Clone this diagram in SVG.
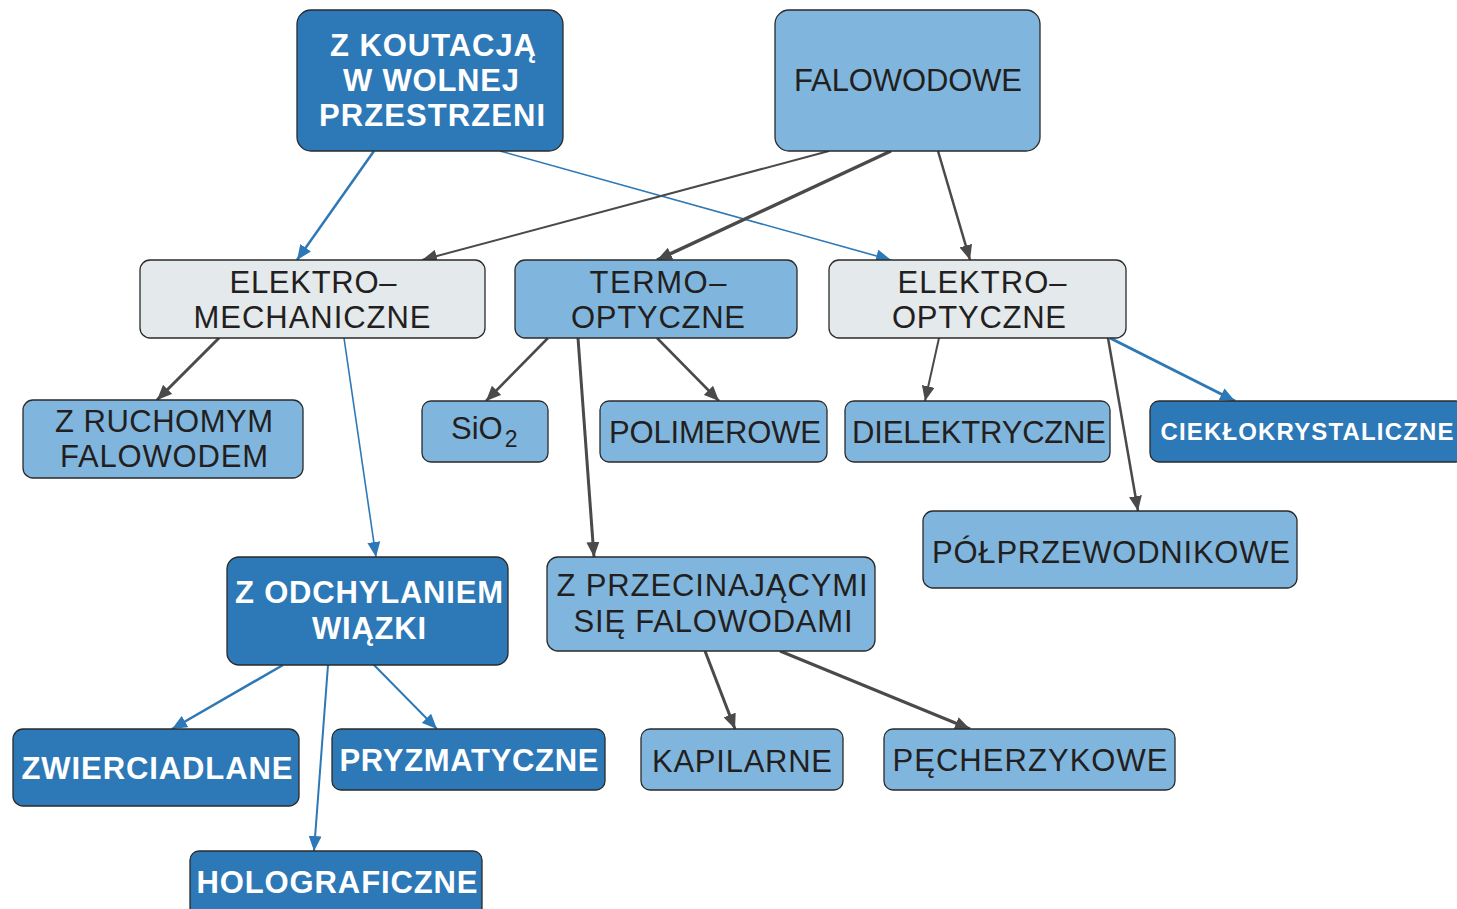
<svg xmlns="http://www.w3.org/2000/svg" width="1457" height="909" viewBox="0 0 1457 909">
<defs>
<style>
.dk{fill:#2d78b6;stroke:#2a2a2a;stroke-width:1.3}
.lt{fill:#80b6dd;stroke:#2a2a2a;stroke-width:1.3}
.gr{fill:#e4e9ec;stroke:#2a2a2a;stroke-width:1.3}
.tw{font-family:"Liberation Sans",Arial,sans-serif;font-weight:bold;font-size:31px;fill:#ffffff;text-anchor:middle}
.tb{font-family:"Liberation Sans",Arial,sans-serif;font-size:31px;fill:#231f20;text-anchor:middle}
.cg{stroke:#4a4a4a;fill:none}
.cb{stroke:#2d78b6;fill:none}
</style>
<marker id="ag" markerUnits="userSpaceOnUse" markerWidth="15" markerHeight="13" refX="15" refY="6.5" orient="auto"><path d="M0,0 L15,6.5 L0,13 z" fill="#4a4a4a"/></marker>
<marker id="ab" markerUnits="userSpaceOnUse" markerWidth="15" markerHeight="13" refX="15" refY="6.5" orient="auto"><path d="M0,0 L15,6.5 L0,13 z" fill="#2d78b6"/></marker>
</defs>
<rect width="1457" height="909" fill="#ffffff"/>
<g id="connectors">
<line class="cb" x1="374" y1="151" x2="297" y2="260" stroke-width="2.5" marker-end="url(#ab)"/>
<line class="cb" x1="500" y1="151" x2="891" y2="260" stroke-width="1.6" marker-end="url(#ab)"/>
<line class="cg" x1="829" y1="151" x2="422" y2="260" stroke-width="2" marker-end="url(#ag)"/>
<line class="cg" x1="891" y1="151" x2="657" y2="260" stroke-width="3.5" marker-end="url(#ag)"/>
<line class="cg" x1="938" y1="151" x2="970" y2="260" stroke-width="2.5" marker-end="url(#ag)"/>
<line class="cg" x1="219" y1="338" x2="157" y2="400" stroke-width="3" marker-end="url(#ag)"/>
<line class="cb" x1="344" y1="338" x2="376" y2="557" stroke-width="1.6" marker-end="url(#ab)"/>
<line class="cg" x1="548" y1="338" x2="486" y2="401" stroke-width="2.5" marker-end="url(#ag)"/>
<line class="cg" x1="578" y1="338" x2="594" y2="557" stroke-width="3" marker-end="url(#ag)"/>
<line class="cg" x1="657" y1="338" x2="719" y2="401" stroke-width="2.5" marker-end="url(#ag)"/>
<line class="cg" x1="939" y1="338" x2="925" y2="401" stroke-width="2" marker-end="url(#ag)"/>
<line class="cg" x1="1108" y1="338" x2="1138" y2="511" stroke-width="2.5" marker-end="url(#ag)"/>
<line class="cb" x1="1110" y1="338" x2="1235" y2="401" stroke-width="3" marker-end="url(#ab)"/>
<line class="cb" x1="283" y1="665" x2="172" y2="729" stroke-width="2.5" marker-end="url(#ab)"/>
<line class="cb" x1="328" y1="665" x2="314" y2="851" stroke-width="2" marker-end="url(#ab)"/>
<line class="cb" x1="374" y1="665" x2="437" y2="729" stroke-width="2" marker-end="url(#ab)"/>
<line class="cg" x1="705" y1="651" x2="735" y2="729" stroke-width="3" marker-end="url(#ag)"/>
<line class="cg" x1="780" y1="651" x2="970" y2="729" stroke-width="3" marker-end="url(#ag)"/>
</g>
<g id="n-koutacja">
<rect class="dk" x="297" y="10" width="266" height="141" rx="14"/>
<text class="tw" x="433" y="56" textLength="206" lengthAdjust="spacing">Z KOUTACJĄ</text>
<text class="tw" x="431" y="91" textLength="176" lengthAdjust="spacing">W WOLNEJ</text>
<text class="tw" x="432" y="126" textLength="226" lengthAdjust="spacing">PRZESTRZENI</text>
</g>
<g id="n-falowodowe">
<rect class="lt" x="775" y="10" width="265" height="141" rx="14"/>
<text class="tb" x="908" y="91" textLength="228" lengthAdjust="spacing">FALOWODOWE</text>
</g>
<g id="n-elektromech">
<rect class="gr" x="140" y="260" width="345" height="78" rx="10"/>
<text class="tb" x="313" y="293" textLength="167" lengthAdjust="spacing">ELEKTRO–</text>
<text class="tb" x="312" y="328" textLength="237" lengthAdjust="spacing">MECHANICZNE</text>
</g>
<g id="n-termo">
<rect class="lt" x="515" y="260" width="282" height="78" rx="10"/>
<text class="tb" x="658" y="293" textLength="137" lengthAdjust="spacing">TERMO–</text>
<text class="tb" x="658" y="328" textLength="174" lengthAdjust="spacing">OPTYCZNE</text>
</g>
<g id="n-elektroopt">
<rect class="gr" x="829" y="260" width="297" height="78" rx="10"/>
<text class="tb" x="982" y="293" textLength="169" lengthAdjust="spacing">ELEKTRO–</text>
<text class="tb" x="979" y="328" textLength="174" lengthAdjust="spacing">OPTYCZNE</text>
</g>
<g id="n-ruchomym">
<rect class="lt" x="23" y="400" width="280" height="78" rx="10"/>
<text class="tb" x="164" y="432" textLength="218" lengthAdjust="spacing">Z RUCHOMYM</text>
<text class="tb" x="164" y="467" textLength="208" lengthAdjust="spacing">FALOWODEM</text>
</g>
<g id="n-sio2">
<rect class="lt" x="422" y="401" width="126" height="61" rx="9"/>
<text class="tb" x="451" y="439" style="text-anchor:start">SiO<tspan font-size="23" dx="2" dy="8">2</tspan></text>
</g>
<g id="n-polimerowe">
<rect class="lt" x="600" y="401" width="227" height="61" rx="9"/>
<text class="tb" x="715" y="443" textLength="212" lengthAdjust="spacing">POLIMEROWE</text>
</g>
<g id="n-dielektryczne">
<rect class="lt" x="845" y="401" width="265" height="61" rx="9"/>
<text class="tb" x="979" y="443" textLength="254" lengthAdjust="spacing">DIELEKTRYCZNE</text>
</g>
<g id="n-ciekl">
<rect class="dk" x="1150" y="401" width="315" height="61" rx="9"/>
<text class="tw" x="1307" y="440" textLength="293" lengthAdjust="spacing" style="font-size:24px">CIEKŁOKRYSTALICZNE</text>
</g>
<g id="n-polprzew">
<rect class="lt" x="923" y="511" width="374" height="77" rx="10"/>
<text class="tb" x="1111" y="563" textLength="358" lengthAdjust="spacing">PÓŁPRZEWODNIKOWE</text>
</g>
<g id="n-odchylaniem">
<rect class="dk" x="227" y="557" width="281" height="108" rx="12"/>
<text class="tw" x="369" y="603" textLength="268" lengthAdjust="spacing">Z ODCHYLANIEM</text>
<text class="tw" x="369" y="639" textLength="114" lengthAdjust="spacing">WIĄZKI</text>
</g>
<g id="n-przecinajacymi">
<rect class="lt" x="547" y="557" width="328" height="94" rx="11"/>
<text class="tb" x="712" y="596" textLength="311" lengthAdjust="spacing">Z PRZECINAJĄCYMI</text>
<text class="tb" x="713" y="632" textLength="279" lengthAdjust="spacing">SIĘ FALOWODAMI</text>
</g>
<g id="n-zwierciadlane">
<rect class="dk" x="13" y="729" width="286" height="77" rx="10"/>
<text class="tw" x="157" y="779" textLength="271" lengthAdjust="spacing">ZWIERCIADLANE</text>
</g>
<g id="n-pryzmatyczne">
<rect class="dk" x="332" y="729" width="273" height="61" rx="9"/>
<text class="tw" x="469" y="771" textLength="259" lengthAdjust="spacing">PRYZMATYCZNE</text>
</g>
<g id="n-holograficzne">
<rect class="dk" x="190" y="851" width="292" height="70" rx="9"/>
<text class="tw" x="337" y="893" textLength="281" lengthAdjust="spacing">HOLOGRAFICZNE</text>
</g>
<g id="n-kapilarne">
<rect class="lt" x="641" y="729" width="202" height="61" rx="9"/>
<text class="tb" x="742" y="772" textLength="180" lengthAdjust="spacing">KAPILARNE</text>
</g>
<g id="n-pecherzykowe">
<rect class="lt" x="884" y="729" width="291" height="61" rx="9"/>
<text class="tb" x="1030" y="771" textLength="275" lengthAdjust="spacing">PĘCHERZYKOWE</text>
</g>
</svg>
